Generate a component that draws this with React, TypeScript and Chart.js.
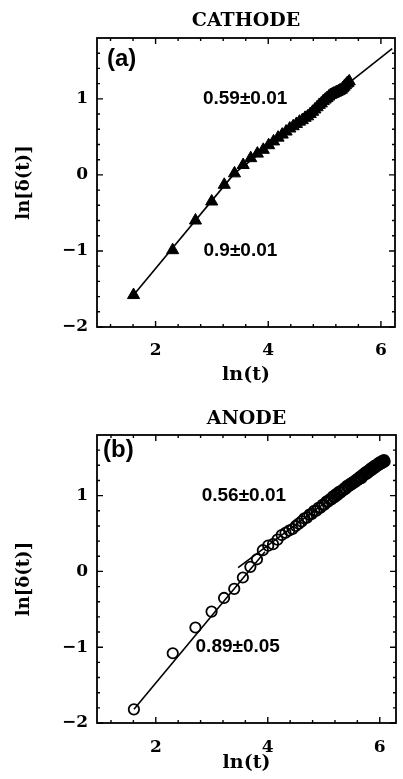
import React, { useEffect, useRef } from "react";
import { Chart, registerables } from "chart.js";

Chart.register(...registerables);

// ---------- DATA ----------
const cathodeLnT = [
  1.609, 2.303, 2.708, 2.996, 3.219, 3.401, 3.555, 3.689, 3.807, 3.912,
  4.007, 4.094, 4.174, 4.248, 4.317, 4.382, 4.443, 4.5, 4.554, 4.605,
  4.654, 4.7, 4.745, 4.787, 4.828, 4.868, 4.905, 4.942, 4.977, 5.011,
  5.043, 5.075, 5.106, 5.136, 5.165, 5.193, 5.22, 5.247, 5.273, 5.298,
  5.323, 5.347, 5.371, 5.394, 5.416, 5.438,
];
const cathodeLnDelta = [
  -1.58, -0.99, -0.6, -0.35, -0.13, 0.02, 0.13, 0.22, 0.28, 0.33,
  0.39, 0.44, 0.49, 0.53, 0.57, 0.61, 0.64, 0.67, 0.7, 0.72,
  0.75, 0.77, 0.8, 0.83, 0.86, 0.89, 0.92, 0.94, 0.97, 0.99,
  1.01, 1.03, 1.05, 1.06, 1.07, 1.08, 1.09, 1.1, 1.11, 1.12,
  1.14, 1.16, 1.18, 1.2, 1.21, 1.23,
];
const cathodeFitEarlyX = [1.61, 3.4];
const cathodeFitEarlyY = [-1.58, 0.02];
const cathodeFitLateX = [3.4, 6.2];
const cathodeFitLateY = [0.02, 1.66];

const anodeLnT = [
  1.609, 2.303, 2.708, 2.996, 3.219, 3.401, 3.555, 3.689, 3.807, 3.912,
  4.007, 4.094, 4.174, 4.248, 4.317, 4.382, 4.443, 4.5, 4.554, 4.605,
  4.654, 4.7, 4.745, 4.787, 4.828, 4.868, 4.905, 4.942, 4.977, 5.011,
  5.043, 5.075, 5.106, 5.136, 5.165, 5.193, 5.22, 5.247, 5.273, 5.298,
  5.323, 5.347, 5.371, 5.394, 5.416, 5.438, 5.46, 5.481, 5.501, 5.521,
  5.541, 5.561, 5.58, 5.598, 5.617, 5.635, 5.652, 5.67, 5.687, 5.704,
  5.72, 5.737, 5.753, 5.768, 5.784, 5.799, 5.814, 5.829, 5.843, 5.858,
  5.872, 5.886, 5.9, 5.914, 5.927, 5.94, 5.953, 5.966, 5.979, 5.991,
  6.004, 6.016, 6.028, 6.04, 6.052, 6.064, 6.075, 6.087,
];
const anodeLnDelta = [
  -1.82, -1.08, -0.74, -0.53, -0.35, -0.23, -0.08, 0.06, 0.16, 0.28,
  0.34, 0.36, 0.42, 0.48, 0.51, 0.54, 0.56, 0.6, 0.63, 0.66,
  0.7, 0.71, 0.75, 0.76, 0.8, 0.8, 0.84, 0.84, 0.88, 0.88,
  0.92, 0.92, 0.95, 0.95, 0.99, 0.98, 1.02, 1.01, 1.05, 1.04,
  1.07, 1.07, 1.1, 1.09, 1.13, 1.12, 1.15, 1.14, 1.17, 1.16,
  1.19, 1.18, 1.21, 1.2, 1.23, 1.22, 1.25, 1.23, 1.27, 1.26,
  1.29, 1.28, 1.31, 1.29, 1.32, 1.31, 1.34, 1.33, 1.36, 1.34,
  1.37, 1.36, 1.39, 1.37, 1.4, 1.39, 1.41, 1.4, 1.43, 1.41,
  1.44, 1.42, 1.45, 1.43, 1.46, 1.44, 1.47, 1.45,
];
const anodeFitEarlyX = [1.61, 3.95];
const anodeFitEarlyY = [-1.82, 0.26];
const anodeFitLateX = [3.47, 6.14];
const anodeFitLateY = [0.05, 1.52];

const xTickValues = [2, 4, 6];
const yTickValues = [-2, -1, 0, 1];
const xMinorTicks = [1.2, 1.6, 2.4, 2.8, 3.2, 3.6, 4.4, 4.8, 5.2, 5.6];
const yMinorTicks = [-1.8, -1.6, -1.4, -1.2, -0.8, -0.6, -0.4, -0.2, 0.2, 0.4, 0.6, 0.8, 1.2, 1.4, 1.6];

// ---------- PLUGIN: full box, inward ticks, panel letter, slope notes ----------
const boxPlugin = {
  id: "boxTicks",
  afterDraw(chart: any, _args: any, opts: any) {
    const { ctx, chartArea } = chart;
    const { left, right, top, bottom } = chartArea;
    const xs = chart.scales.x;
    const ys = chart.scales.y;
    ctx.save();
    ctx.strokeStyle = "#000";
    ctx.lineWidth = 1.8;
    ctx.strokeRect(left, top, right - left, bottom - top);
    ctx.lineWidth = 1.4;
    const drawX = (v: number, len: number) => {
      const p = xs.getPixelForValue(v);
      ctx.beginPath();
      ctx.moveTo(p, bottom);
      ctx.lineTo(p, bottom - len);
      ctx.moveTo(p, top);
      ctx.lineTo(p, top + len);
      ctx.stroke();
    };
    const drawY = (v: number, len: number) => {
      const p = ys.getPixelForValue(v);
      ctx.beginPath();
      ctx.moveTo(left, p);
      ctx.lineTo(left + len, p);
      ctx.moveTo(right, p);
      ctx.lineTo(right - len, p);
      ctx.stroke();
    };
    xTickValues.forEach((v) => drawX(v, 6));
    xMinorTicks.forEach((v) => drawX(v, 3));
    yTickValues.forEach((v) => drawY(v, 6));
    yMinorTicks.forEach((v) => drawY(v, 3));

    ctx.fillStyle = "#000";
    ctx.textBaseline = "middle";
    ctx.textAlign = "left";
    ctx.font = "bold 24px 'Liberation Sans', Arial, sans-serif";
    ctx.fillText(opts.letter, left + opts.letterDx, top + opts.letterDy);
    ctx.font = "bold 19px 'Liberation Sans', Arial, sans-serif";
    (opts.notes || []).forEach((n: any) => {
      ctx.fillText(n.text, xs.getPixelForValue(n.x), ys.getPixelForValue(n.y));
    });
    ctx.restore();
  },
};

const toPoints = (xs: number[], ys: number[]) => xs.map((x, i) => ({ x, y: ys[i] }));

type PanelProps = {
  top: number;
  height: number;
  title: string;
  titlePadTop: number;
  titlePadBottom: number;
  xAxisHeight: number;
  xTickPad: number;
  xTitlePadBottom: number;
  xMin: number;
  xMax: number;
  pts: { x: number; y: number }[];
  fitEarly: { x: number; y: number }[];
  fitLate: { x: number; y: number }[];
  marker: "triangle" | "circle";
  letter: string;
  letterDx: number;
  letterDy: number;
  notes: { text: string; x: number; y: number }[];
};

function Panel(p: PanelProps) {
  const ref = useRef<HTMLCanvasElement | null>(null);
  useEffect(() => {
    if (!ref.current) return;
    const serif = "'DejaVu Serif', serif";
    const markerDs =
      p.marker === "triangle"
        ? {
            data: p.pts,
            pointStyle: "triangle",
            pointRadius: 7,
            backgroundColor: "#000",
            borderColor: "#000",
            borderWidth: 1,
            showLine: false,
          }
        : {
            data: p.pts,
            pointStyle: "circle",
            pointRadius: 5.2,
            backgroundColor: "rgba(255,255,255,0)",
            borderColor: "#000",
            borderWidth: 1.8,
            showLine: false,
          };
    const lineDs = (d: any) => ({
      data: d,
      showLine: true,
      borderColor: "#000",
      borderWidth: 1.6,
      pointRadius: 0,
      fill: false,
    });
    const chart = new Chart(ref.current, {
      type: "scatter",
      data: {
        datasets: [markerDs as any, lineDs(p.fitEarly), lineDs(p.fitLate)],
      },
      options: {
        animation: false,
        responsive: false,
        devicePixelRatio: 1,
        layout: { padding: { left: 0, right: 3, top: 0, bottom: 0 } },
        plugins: {
          legend: { display: false },
          tooltip: { enabled: false },
          title: {
            display: true,
            fullSize: false,
            text: p.title,
            color: "#000",
            font: { family: serif, size: 19, weight: "bold" },
            padding: { top: p.titlePadTop, bottom: p.titlePadBottom },
          },
          boxTicks: {
            letter: p.letter,
            letterDx: p.letterDx,
            letterDy: p.letterDy,
            notes: p.notes,
          },
        } as any,
        scales: {
          x: {
            type: "linear",
            min: p.xMin,
            max: p.xMax,
            grid: { display: false, drawTicks: false },
            border: { display: false },
            afterBuildTicks: (s: any) => {
              s.ticks = xTickValues.map((v) => ({ value: v }));
            },
            afterFit: (s: any) => {
              s.height = p.xAxisHeight;
            },
            ticks: {
              color: "#000",
              maxRotation: 0,
              padding: p.xTickPad,
              font: { family: serif, size: 17, weight: "bold" },
              callback: (v: any) => String(v),
            },
            title: {
              display: true,
              text: "ln(t)",
              color: "#000",
              font: { family: serif, size: 19, weight: "bold" },
              padding: { top: 0, bottom: p.xTitlePadBottom },
            },
          },
          y: {
            type: "linear",
            min: -2,
            max: 1.8,
            grid: { display: false, drawTicks: false },
            border: { display: false },
            afterBuildTicks: (s: any) => {
              s.ticks = yTickValues.map((v) => ({ value: v }));
            },
            afterFit: (s: any) => {
              s.width = 97;
            },
            ticks: {
              color: "#000",
              padding: 9,
              font: { family: serif, size: 17, weight: "bold" },
              callback: (v: any) => (Number(v) < 0 ? "\u2212" + Math.abs(Number(v)) : String(v)),
            },
            title: {
              display: true,
              text: "ln[\u03b4(t)]",
              color: "#000",
              font: { family: serif, size: 18, weight: "bold" },
              padding: { top: 14, bottom: 0 },
            },
          },
        },
      } as any,
      plugins: [boxPlugin as any],
    });
    return () => chart.destroy();
  }, []);
  return (
    <div style={{ position: "absolute", left: 0, top: p.top, width: 403, height: p.height }}>
      <canvas ref={ref} width={403} height={p.height} style={{ display: "block" }} />
    </div>
  );
}

export default function App() {
  return (
    <div style={{ position: "absolute", left: 0, top: 0, width: 403, height: 779, background: "#fff" }}>
      <Panel
        top={0}
        height={390}
        title="CATHODE"
        titlePadTop={10}
        titlePadBottom={5.2}
        xAxisHeight={63}
        xTickPad={13}
        xTitlePadBottom={3.6}
        xMin={0.96}
        xMax={6.25}
        pts={toPoints(cathodeLnT, cathodeLnDelta)}
        fitEarly={toPoints(cathodeFitEarlyX, cathodeFitEarlyY)}
        fitLate={toPoints(cathodeFitLateX, cathodeFitLateY)}
        marker="triangle"
        letter="(a)"
        letterDx={10}
        letterDy={21}
        notes={[
          { text: "0.59\u00b10.01", x: 2.84, y: 1.0 },
          { text: "0.9\u00b10.01", x: 2.85, y: -1.0 },
        ]}
      />
      <Panel
        top={390}
        height={389}
        title="ANODE"
        titlePadTop={17.6}
        titlePadBottom={4.6}
        xAxisHeight={56}
        xTickPad={14}
        xTitlePadBottom={4.6}
        xMin={0.95}
        xMax={6.29}
        pts={toPoints(anodeLnT, anodeLnDelta)}
        fitEarly={toPoints(anodeFitEarlyX, anodeFitEarlyY)}
        fitLate={toPoints(anodeFitLateX, anodeFitLateY)}
        marker="circle"
        letter="(b)"
        letterDx={6}
        letterDy={15}
        notes={[
          { text: "0.56\u00b10.01", x: 2.82, y: 1.0 },
          { text: "0.89\u00b10.05", x: 2.71, y: -1.0 },
        ]}
      />
    </div>
  );
}
